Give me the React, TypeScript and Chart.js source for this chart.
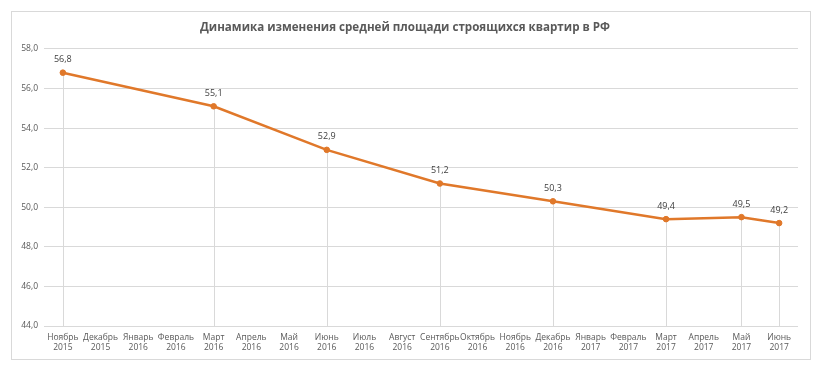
import React, { useEffect, useRef } from "react";
import { Chart, registerables } from "chart.js";

Chart.register(...registerables);

const months = [
  "Ноябрь", "Декабрь", "Январь", "Февраль", "Март", "Апрель", "Май", "Июнь", "Июль", "Август",
  "Сентябрь", "Октябрь", "Ноябрь", "Декабрь", "Январь", "Февраль", "Март", "Апрель", "Май", "Июнь",
];
const years = [
  "2015", "2015", "2016", "2016", "2016", "2016", "2016", "2016", "2016", "2016",
  "2016", "2016", "2016", "2016", "2017", "2017", "2017", "2017", "2017", "2017",
];
const areaValues: (number | null)[] = [
  56.8, null, null, null, 55.1, null, null, 52.9, null, null,
  51.2, null, null, 50.3, null, null, 49.4, null, 49.5, 49.2,
];
const yMin = 44;
const yMax = 58;
const yStep = 2;
const title = "Динамика изменения средней площади строящихся квартир в РФ";

const FONT = "'Open Sans', 'Noto Sans', sans-serif";
const fmt = (v: number) => v.toFixed(1).replace(".", ",");

const dropLines = {
  id: "dropLines",
  beforeDatasetsDraw(chart: any) {
    const meta = chart.getDatasetMeta(0);
    const ctx = chart.ctx;
    const bottom = chart.chartArea.bottom;
    ctx.save();
    ctx.strokeStyle = "#d9d9d9";
    ctx.lineWidth = 1;
    meta.data.forEach((el: any, i: number) => {
      if (areaValues[i] == null) return;
      const x = Math.round(el.x) + 0.5;
      ctx.beginPath();
      ctx.moveTo(x, el.y);
      ctx.lineTo(x, bottom);
      ctx.stroke();
    });
    ctx.restore();
  },
};

const dataLabels = {
  id: "dataLabels",
  afterDatasetsDraw(chart: any) {
    const meta = chart.getDatasetMeta(0);
    const ctx = chart.ctx;
    ctx.save();
    ctx.fillStyle = "#404040";
    ctx.font = `9px ${FONT}`;
    ctx.textAlign = "center";
    ctx.textBaseline = "middle";
    meta.data.forEach((el: any, i: number) => {
      const v = areaValues[i];
      if (v == null) return;
      ctx.fillText(fmt(v), el.x, el.y - 13);
    });
    ctx.restore();
  },
};

export default function App() {
  const ref = useRef<HTMLCanvasElement>(null);
  useEffect(() => {
    if (!ref.current) return;
    const chart = new Chart(ref.current, {
      type: "line",
      data: {
        labels: months.map((m, i) => [m, years[i]]),
        datasets: [
          {
            data: areaValues,
            borderColor: "#E0782A",
            backgroundColor: "#E0782A",
            borderWidth: 2.5,
            pointRadius: 2.8,
            pointBorderWidth: 1,
            spanGaps: true,
            tension: 0,
          },
        ],
      },
      plugins: [dropLines, dataLabels],
      options: {
        animation: false,
        responsive: false,
        layout: { padding: { left: 0, right: 12, top: 0, bottom: 0 } },
        plugins: {
          legend: { display: false },
          tooltip: { enabled: false },
          title: {
            display: true,
            text: title,
            color: "#595959",
            font: { family: FONT, size: 11.6, weight: "bold" },
            padding: { top: 9, bottom: 14 },
          },
        },
        scales: {
          x: {
            offset: true,
            afterFit: (s: any) => {
              s.height = 33;
            },
            grid: { display: false, drawTicks: false },
            border: { display: false },
            ticks: {
              autoSkip: false,
              maxRotation: 0,
              minRotation: 0,
              padding: 6,
              color: "#595959",
              font: { family: FONT, size: 8.5 },
            },
          },
          y: {
            min: yMin,
            max: yMax,
            afterFit: (s: any) => {
              s.width = 32;
            },
            grid: { color: "#d9d9d9", drawTicks: false },
            border: { display: false },
            ticks: {
              stepSize: yStep,
              padding: 6,
              color: "#595959",
              font: { family: FONT, size: 8.5 },
              callback: (v: any) => fmt(Number(v)),
            },
          },
        },
      },
    });
    return () => chart.destroy();
  }, []);
  return (
    <div
      style={{
        margin: "3px 0 0 3px",
        width: 798,
        height: 347,
        border: "1px solid #d9d9d9",
      }}
    >
      <canvas ref={ref} width={798} height={347} />
    </div>
  );
}
